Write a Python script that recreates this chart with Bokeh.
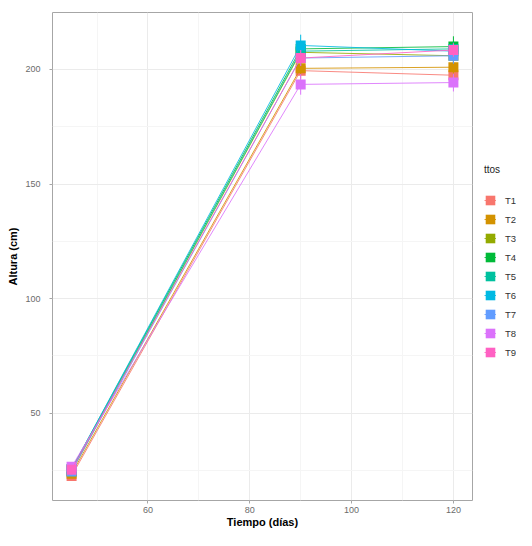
from bokeh.plotting import figure
from bokeh.models import Range1d, FixedTicker, Legend, LegendItem, ColumnDataSource
from bokeh.layouts import row
from bokeh.embed import file_html
from bokeh.resources import INLINE

# ---- data ----
dias = [45, 90, 120]
tratamientos = ["T1", "T2", "T3", "T4", "T5", "T6", "T7", "T8", "T9"]
colores = ["#F8766D", "#D39200", "#93AA00", "#00BA38", "#00C19F",
           "#00B9E3", "#619CFF", "#DB72FB", "#FF61C3"]

altura_T1 = [22.5, 199.5, 197.5]
altura_T2 = [23.5, 200.5, 201.0]
altura_T3 = [24.5, 207.5, 206.0]
altura_T4 = [25.5, 209.0, 210.0]
altura_T5 = [25.0, 208.0, 209.0]
altura_T6 = [25.5, 210.5, 208.0]
altura_T7 = [24.5, 205.0, 206.0]
altura_T8 = [26.5, 193.5, 194.3]
altura_T9 = [25.2, 205.0, 208.5]

sd_T1 = [1.0, 3.5, 3.0]
sd_T2 = [1.2, 3.0, 3.5]
sd_T3 = [1.0, 3.5, 3.0]
sd_T4 = [1.0, 3.5, 4.5]
sd_T5 = [1.1, 3.0, 3.0]
sd_T6 = [1.2, 4.7, 3.0]
sd_T7 = [1.0, 3.5, 3.5]
sd_T8 = [1.0, 4.5, 3.9]
sd_T9 = [1.1, 3.5, 3.0]

x_ticks = [60, 80, 100, 120]
x_minor = [50, 70, 90, 110]
y_ticks = [50, 100, 150, 200]
y_minor = [25, 75, 125, 175]

alturas = [altura_T1, altura_T2, altura_T3, altura_T4, altura_T5,
           altura_T6, altura_T7, altura_T8, altura_T9]
sds = [sd_T1, sd_T2, sd_T3, sd_T4, sd_T5, sd_T6, sd_T7, sd_T8, sd_T9]

# ggplot-like expanded ranges
xmin, xmax = min(dias), max(dias)
xpad = 0.05 * (xmax - xmin)
lo_all = min(a - s for al, sl in zip(alturas, sds) for a, s in zip(al, sl))
hi_all = max(a + s for al, sl in zip(alturas, sds) for a, s in zip(al, sl))
ypad = 0.05 * (hi_all - lo_all)

FONT = "Liberation Sans"

p = figure(width=476, height=530, output_backend="svg", toolbar_location=None,
           x_range=Range1d(xmin - xpad, xmax + xpad),
           y_range=Range1d(lo_all - ypad, hi_all + ypad),
           min_border_left=52, min_border_right=4,
           min_border_top=12, min_border_bottom=26)

p.background_fill_color = "white"
p.border_fill_color = "white"
p.outline_line_color = "#a6a6a6"
p.outline_line_width = 1

p.xaxis.ticker = FixedTicker(ticks=x_ticks, minor_ticks=x_minor)
p.yaxis.ticker = FixedTicker(ticks=y_ticks, minor_ticks=y_minor)

for ax in (p.xaxis, p.yaxis):
    ax.axis_line_color = None
    ax.major_tick_line_color = "#a6a6a6"
    ax.major_tick_out = 3
    ax.major_tick_in = 0
    ax.minor_tick_line_color = None
    ax.major_label_text_font = FONT
    ax.major_label_text_font_size = "9px"
    ax.major_label_text_color = "#6b6b6b"
    ax.axis_label_text_font = FONT
    ax.axis_label_text_font_size = "11px"
    ax.axis_label_text_font_style = "bold"
    ax.axis_label_text_color = "black"

p.xaxis.major_label_standoff = 2
p.xaxis.axis_label_standoff = 0
p.yaxis.major_label_standoff = 8
p.yaxis.axis_label_standoff = 3

p.xaxis.axis_label = "Tiempo (días)"
p.yaxis.axis_label = "Altura (cm)"

for g in (p.xgrid, p.ygrid):
    g.grid_line_color = "#EBEBEB"
    g.grid_line_width = 1
    g.minor_grid_line_color = "#F5F5F5"
    g.minor_grid_line_width = 1

# legend panel (separate narrow figure, its data kept out of view)
q = figure(width=40, height=530, output_backend="svg", toolbar_location=None,
           x_axis_type=None, y_axis_type=None,
           x_range=Range1d(1000, 1001), y_range=Range1d(1000, 1001),
           min_border=0)
q.outline_line_color = None
q.background_fill_color = "white"
q.border_fill_color = "white"
q.grid.visible = False

items = []
for name, col, al, sl in zip(tratamientos, colores, alturas, sds):
    src = ColumnDataSource(dict(x=dias, y=al,
                                lo=[a - s for a, s in zip(al, sl)],
                                hi=[a + s for a, s in zip(al, sl)]))
    p.line("x", "y", source=src, line_color=col, line_width=1, line_alpha=0.85)
    p.segment(x0="x", y0="lo", x1="x", y1="hi", source=src,
              line_color=col, line_width=1)
    p.rect("x", "y", width=10, height=10, width_units="screen",
           height_units="screen", source=src, fill_color=col, line_color=None)
    ln = q.line("x", "y", source=src, line_color=col, line_width=1, line_alpha=0.85)
    sq = q.rect("x", "y", width=10, height=10, width_units="screen",
                height_units="screen", source=src, fill_color=col, line_color=None)
    items.append(LegendItem(label=name, renderers=[ln, sq]))

legend = Legend(items=items, location=(8, 142), title="ttos",
                border_line_color=None, background_fill_alpha=0,
                padding=0, margin=0, spacing=7,
                glyph_width=12, glyph_height=12, label_height=12,
                label_standoff=9,
                label_text_font=FONT, label_text_font_size="9.5px",
                label_text_color="#333333",
                title_text_font=FONT, title_text_font_size="10px",
                title_text_font_style="normal", title_text_color="#222222",
                title_standoff=19)
q.add_layout(legend)

layout = row(p, q)
open("out.html", "w").write(file_html(layout, INLINE))
